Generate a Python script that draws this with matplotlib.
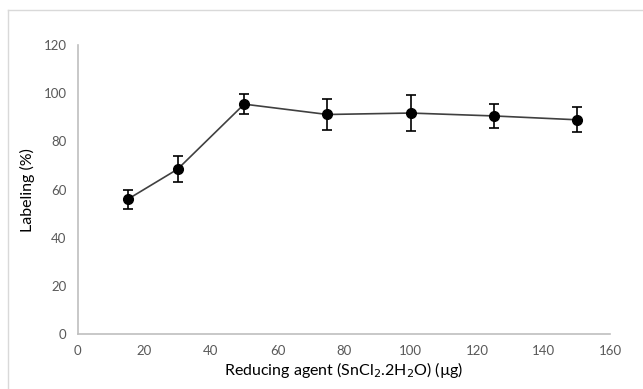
import matplotlib as mpl
mpl.use('Agg')
import matplotlib.pyplot as plt

plt.rcParams['font.family'] = ['Lato', 'DejaVu Sans']

# reducing agent amount (ug) vs labeling efficiency (%)
agent = [15, 30, 50, 75, 100, 125, 150]
labeling = [56, 68.5, 95.5, 91.2, 91.8, 90.6, 89]
err = [4, 5.5, 4.3, 6.3, 7.5, 5, 5.2]

fig = plt.figure(figsize=(6.43, 3.89), dpi=100)
ax = fig.add_axes([0.121, 0.141, 0.828, 0.743])

ax.errorbar(agent, labeling, yerr=err, fmt='o-', color='#404040', lw=1.2,
            mfc='black', mec='black', ms=7, ecolor='black', elinewidth=1.2,
            capsize=3.5, capthick=1.2)

ax.set_xlim(0, 160)
ax.set_ylim(0, 120)
ax.set_xticks(range(0, 161, 20))
ax.set_yticks(range(0, 121, 20))
for s in ['top', 'right']:
    ax.spines[s].set_visible(False)
for s in ['left', 'bottom']:
    ax.spines[s].set_color('#bfbfbf')
    ax.spines[s].set_linewidth(1.2)
ax.tick_params(length=0, labelsize=9.5, labelcolor='#595959', pad=8)

ax.set_xlabel('Reducing agent (SnCl$_2$.2H$_2$O) (µg)', fontsize=11.5, labelpad=2)
ax.set_ylabel('Labeling (%)', fontsize=11.5, labelpad=6)

# chart-area border (cut at right / bottom)
fig.add_artist(plt.Line2D([0.0124, 0.0124], [0, 0.974], color='#d9d9d9', lw=1))
fig.add_artist(plt.Line2D([0.0124, 1], [0.974, 0.974], color='#d9d9d9', lw=1))

fig.savefig('out.png', dpi=100)
